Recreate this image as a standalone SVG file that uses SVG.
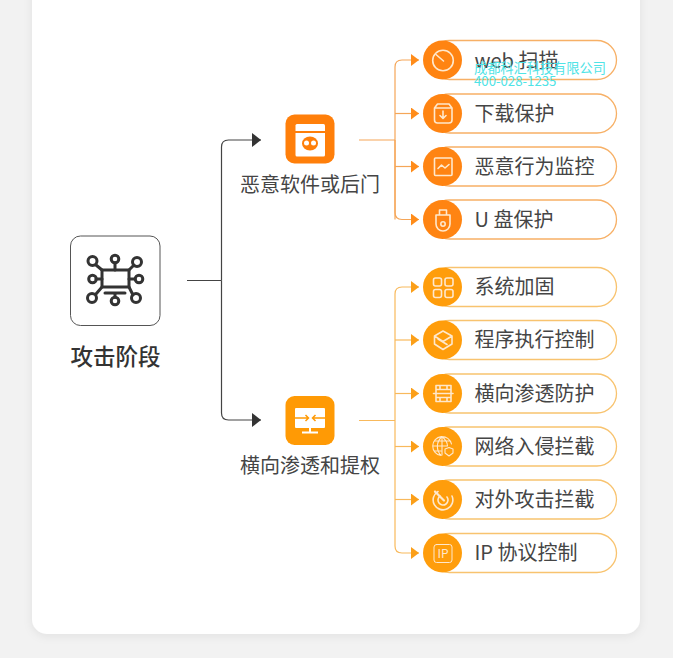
<svg xmlns="http://www.w3.org/2000/svg" width="673" height="658" viewBox="0 0 673 658">
<defs>
<filter id="sh" x="-10%" y="-10%" width="120%" height="120%"><feDropShadow dx="0" dy="2" stdDeviation="5" flood-color="#000" flood-opacity="0.07"/></filter>
<marker id="ad" markerUnits="userSpaceOnUse" markerWidth="10" markerHeight="14" refX="9" refY="7" orient="auto"><path d="M0 0L9 7L0 14Z" fill="#333"/></marker>
<marker id="a1" markerUnits="userSpaceOnUse" markerWidth="9" markerHeight="12" refX="8" refY="6" orient="auto"><path d="M0 0L8 6L0 12Z" fill="#ff8c1a"/></marker>
<marker id="a2" markerUnits="userSpaceOnUse" markerWidth="9" markerHeight="12" refX="8" refY="6" orient="auto"><path d="M0 0L8 6L0 12Z" fill="#fb9f19"/></marker>
</defs>
<style>
text{font-family:"Noto Sans CJK SC","Noto Sans",sans-serif;fill:#454545}
.lb{font-size:20px}
.p1{fill:#fff;stroke:#f7b066;stroke-width:1.3}
.p2{fill:#fff;stroke:#f8c36f;stroke-width:1.3}
.c1{fill:#ff8412}
.c2{fill:#ff9d0b}
.ic{fill:none;stroke:#ffe8cc;stroke-width:1.6;stroke-linecap:round;stroke-linejoin:round}
.ks{fill:none;stroke:#333;stroke-width:3}
.kf{fill:none;stroke:#333;stroke-width:3;stroke-linecap:round}
.w{fill:#fff}
.wm{font-size:13.200px;fill:#4fe3e6}
</style>
<rect width="673" height="658" fill="#f2f2f2"/>
<rect x="32" y="-30" width="608" height="664" rx="15" fill="#fff" filter="url(#sh)"/>

<g id="connectors" fill="none">
<path d="M187 280.500H221.500" stroke="#444" stroke-width="1.200"/>
<path d="M221.500 280.500V147Q221.500 140 228.500 140H261" stroke="#444" stroke-width="1.200" marker-end="url(#ad)"/>
<path d="M221.500 280.500V413Q221.500 420 228.500 420H261" stroke="#444" stroke-width="1.200" marker-end="url(#ad)"/>
<g stroke="#f5a658" stroke-width="1.200">
<path d="M359 140H395"/>
<path d="M395 219.500V67Q395 60 402 60H419" marker-end="url(#a1)"/>
<path d="M395 113.500H419" marker-end="url(#a1)"/>
<path d="M395 166.500H419" marker-end="url(#a1)"/>
<path d="M395 140V212.500Q395 219.500 402 219.500H419" marker-end="url(#a1)"/>
</g>
<g stroke="#f8b95c" stroke-width="1.200">
<path d="M359 420.500H395"/>
<path d="M395 420V294Q395 287 402 287H419" marker-end="url(#a2)"/>
<path d="M395 340H419" marker-end="url(#a2)"/>
<path d="M395 393.500H419" marker-end="url(#a2)"/>
<path d="M395 446.500H419" marker-end="url(#a2)"/>
<path d="M395 499.500H419" marker-end="url(#a2)"/>
<path d="M395 420V546Q395 553 402 553H419" marker-end="url(#a2)"/>
</g>
</g>

<g id="root">
<rect x="70.500" y="236" width="89.500" height="89.500" rx="10" fill="#fff" stroke="#555" stroke-width="1"/>
<rect x="102" y="270" width="27" height="17" class="ks"/>
<path class="kf" d="M115 263V270M102 279H96M129 279H135M102 270L96 265M129 270L134 265M102 287L96 294M129 287L133 295M115 293V297M105 293H125"/>
<circle class="ks" cx="92.500" cy="261" r="4.500"/><circle class="ks" cx="115" cy="259" r="3.800"/><circle class="ks" cx="137" cy="262" r="4.500"/>
<circle class="ks" cx="92.500" cy="279" r="3.800"/><circle class="ks" cx="139" cy="279" r="3.800"/>
<circle class="ks" cx="92" cy="298" r="4.500"/><circle class="ks" cx="115" cy="301" r="3.800"/><circle class="ks" cx="136" cy="298" r="4.500"/>
<text x="115.500" y="365" text-anchor="middle" font-size="22.500" font-weight="500" style="fill:#333">攻击阶段</text>
</g>

<g id="group-malware">
<rect x="285.500" y="114.500" width="49" height="49" rx="9" fill="#ff7f0a"/>
<path class="w" d="M297 124H323.500a1.500 1.500 0 0 1 1.500 1.500V131H295.500V125.500a1.500 1.500 0 0 1 1.500-1.500Z"/>
<path class="w" d="M295.500 133H325V155a1.500 1.500 0 0 1-1.500 1.500H297a1.500 1.500 0 0 1-1.500-1.500Z"/>
<ellipse cx="310" cy="143.500" rx="8" ry="7" fill="#ff7f0a"/>
<circle class="w" cx="306.500" cy="143" r="2.500"/><circle class="w" cx="313.500" cy="143" r="2.500"/>
<text x="310" y="192" text-anchor="middle" font-size="20">恶意软件或后门</text>
</g>

<g id="group-lateral">
<rect x="285.500" y="396" width="49" height="49" rx="9" fill="#ff9a05"/>
<rect x="295" y="408" width="30" height="20" rx="1" fill="#fff"/>
<path d="M295 418H308.500M305.500 415L308.500 418L305.500 421M325 418H312.500M315.500 415L312.500 418L315.500 421" fill="none" stroke="#ff9a05" stroke-width="1.500"/>
<path d="M310 428V432M302 432.500H318" stroke="#fff" stroke-width="2"/>
<text x="310" y="473" text-anchor="middle" font-size="20">横向渗透和提权</text>
</g>

<g id="item-web">
<rect class="p1" x="430" y="40.500" width="186.500" height="39" rx="19.500"/>
<circle class="c1" cx="442.500" cy="60" r="19.500"/>
<circle class="ic" cx="443" cy="60.500" r="10.300"/><path class="ic" d="M436 54.500L443.500 61"/>
<text class="lb" x="474.500" y="68">web 扫描</text>
</g>
<g id="item-download">
<rect class="p1" x="430" y="94" width="186.500" height="39" rx="19.500"/>
<circle class="c1" cx="442.500" cy="113.500" r="19.500"/>
<path class="ic" d="M434.500 108V120a3 3 0 0 0 3 3H449a3 3 0 0 0 3-3V108L449 104H437.500ZM434.500 108H452M443 111V118M440 115.500L443 118.500L446 115.500"/>
<text class="lb" x="474.500" y="120.500">下载保护</text>
</g>
<g id="item-behavior">
<rect class="p1" x="430" y="147" width="186.500" height="39" rx="19.500"/>
<circle class="c1" cx="442.500" cy="166.500" r="19.500"/>
<rect class="ic" x="434.500" y="158" width="17.500" height="17.500" rx="1"/><path class="ic" d="M438 168.500L441.500 165L445 168L449 164.500"/>
<text class="lb" x="474.500" y="173.500">恶意行为监控</text>
</g>
<g id="item-usb">
<rect class="p1" x="430" y="200" width="186.500" height="39" rx="19.500"/>
<circle class="c1" cx="442.500" cy="219.500" r="19.500"/>
<path class="ic" d="M439.500 215V210H446.500V215M436 215H450V224a7 7 0 0 1-14 0Z"/><circle class="ic" cx="443" cy="224" r="2.200"/>
<text class="lb" x="474.500" y="226.500">U 盘保护</text>
</g>

<g id="item-harden">
<rect class="p2" x="430" y="267.500" width="186.500" height="39" rx="19.500"/>
<circle class="c2" cx="442.500" cy="287" r="19.500"/>
<g class="ic"><rect x="433.500" y="278" width="8" height="8" rx="2"/><rect x="445" y="278" width="8" height="8" rx="2"/><rect x="433.500" y="289.500" width="8" height="8" rx="2"/><rect x="445" y="289.500" width="8" height="8" rx="2"/></g>
<text class="lb" x="474.500" y="294">系统加固</text>
</g>
<g id="item-exec">
<rect class="p2" x="430" y="320.500" width="186.500" height="39" rx="19.500"/>
<circle class="c2" cx="442.500" cy="340" r="19.500"/>
<path class="ic" d="M443 331L452 336L443 341.500L434.500 336ZM434.500 336V344L443 349.500L452 344V336M438 339L447 344.500"/>
<text class="lb" x="474.500" y="347">程序执行控制</text>
</g>
<g id="item-lateral">
<rect class="p2" x="430" y="374" width="186.500" height="39" rx="19.500"/>
<circle class="c2" cx="442.500" cy="393.500" r="19.500"/>
<path class="ic" d="M436 385.500H451V401.500H436ZM433.500 393.500H453M436 389.500H451M436 397.500H451M440 385.500V389.500M447 385.500V389.500M440 397.500V401.500M447 397.500V401.500"/>
<text class="lb" x="474.500" y="400.500">横向渗透防护</text>
</g>
<g id="item-network">
<rect class="p2" x="430" y="427" width="186.500" height="39" rx="19.500"/>
<circle class="c2" cx="442.500" cy="446.500" r="19.500"/>
<path class="ic" style="stroke-width:1.100" d="M451.500 444A9.500 9.500 0 1 0 441 455.500M433 446H447M434.500 441H450M434.500 451H441M442 436.500C436 442 436 450 441 455.500M442 436.500C446 440 447.500 444 447.500 446M442 436.500V455"/>
<path class="ic" style="stroke-width:1.100" d="M449 447.500L453 449V453L449 456L445 453V449Z"/>
<text class="lb" x="474.500" y="453.500">网络入侵拦截</text>
</g>
<g id="item-outbound">
<rect class="p2" x="430" y="480" width="186.500" height="39" rx="19.500"/>
<circle class="c2" cx="442.500" cy="499.500" r="19.500"/>
<path class="ic" d="M438 491.500A9.850 9.850 0 1 0 452 496M440 496A5 5 0 1 0 447 497"/><path class="ic" style="stroke-width:2.200" d="M435 491.500L444 500.500"/>
<text class="lb" x="474.500" y="506.500">对外攻击拦截</text>
</g>
<g id="item-ip">
<rect class="p2" x="430" y="533.500" width="186.500" height="39" rx="19.500"/>
<circle class="c2" cx="442.500" cy="553" r="19.500"/>
<rect class="ic" style="stroke-width:1" x="434" y="544.500" width="18" height="18" rx="2.500"/>
<text x="443" y="558" text-anchor="middle" font-size="12" style="fill:#ffe8cc">IP</text>
<text class="lb" x="474.500" y="560">IP 协议控制</text>
</g>

<g id="watermark">
<text class="wm" x="474" y="73">成都科汇科技有限公司</text>
<text class="wm" x="474" y="86">400-028-1235</text>
</g>
</svg>
